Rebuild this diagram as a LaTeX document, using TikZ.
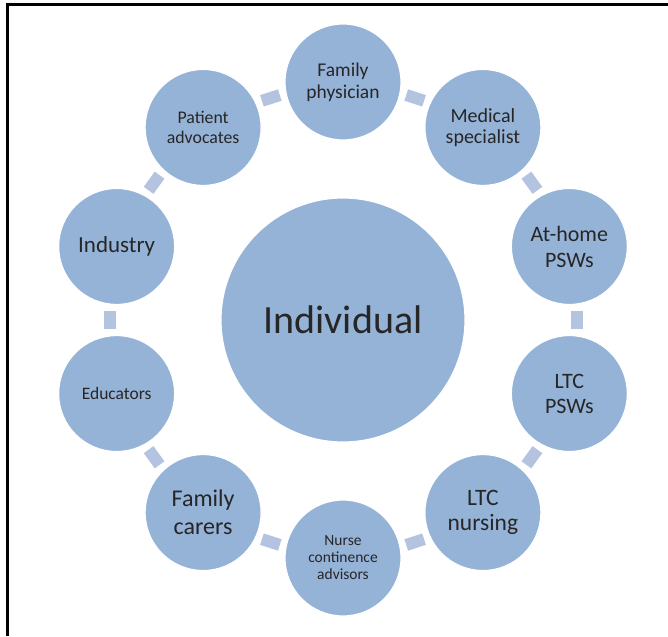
\documentclass[tikz,border=0pt]{standalone}
\usepackage{fontspec}
\setmainfont{Carlito}
\usepackage{tikz}
\usepackage{xcolor}

\definecolor{bubblue}{HTML}{95B3D7}
\definecolor{linkblue}{HTML}{B4C4E0}
\tikzset{
	bub/.style={circle, fill=bubblue, draw=white, line width=1.2pt, minimum size=116pt, inner sep=0pt, align=center, text=black!85},
	link/.style={draw=linkblue, line width=12pt, shorten <=6pt, shorten >=6pt}
}

\begin{document}
		\begin{tikzpicture}
			\useasboundingbox (-343pt, -316pt) rectangle (325pt, 320pt);
			\draw[line width=3pt] (-335pt, -316pt) -- (-335pt, 315pt) -- (325pt, 315pt);
			\node[bub, minimum size=244pt, font={\fontsize{40}{44}\selectfont}] (ind) at (0, 0) {Individual};
			\node[bub, font={\fontsize{19.5}{22}\selectfont}] (n0) at (90:238pt) {Family\\physician};
			\node[bub, font={\fontsize{20}{21}\selectfont}] (n1) at (54:238pt) {Medical\\specialist};
			\node[bub, font={\fontsize{22}{26}\selectfont}] (n2) at (18:238pt) {At-home\\PSWs};
			\node[bub, font={\fontsize{22}{25}\selectfont}] (n3) at (-18:238pt) {LTC\\PSWs};
			\node[bub, font={\fontsize{23.5}{25}\selectfont}] (n4) at (-54:238pt) {LTC\\nursing};
			\node[bub, font={\fontsize{15.5}{17}\selectfont}] (n5) at (-90:238pt) {Nurse\\continence\\advisors};
			\node[bub, font={\fontsize{24}{28}\selectfont}] (n6) at (-126:238pt) {Family\\carers};
			\node[bub, font={\fontsize{17.5}{20}\selectfont}] (n7) at (-162:238pt) {Educators};
			\node[bub, font={\fontsize{23}{26}\selectfont}] (n8) at (162:238pt) {Industry};
			\node[bub, font={\fontsize{17.8}{20}\selectfont}] (n9) at (126:238pt) {Patient\\advocates};
			\draw[link] (n0.-11) -- (n1.155);
			\draw[link] (n1.-47) -- (n2.119);
			\draw[link] (n2.-83) -- (n3.83);
			\draw[link] (n3.-119) -- (n4.47);
			\draw[link] (n4.-155) -- (n5.11);
			\draw[link] (n5.169) -- (n6.-25);
			\draw[link] (n6.133) -- (n7.-61);
			\draw[link] (n7.97) -- (n8.-97);
			\draw[link] (n8.61) -- (n9.-133);
			\draw[link] (n9.25) -- (n0.-169);
		\end{tikzpicture}
\end{document}
